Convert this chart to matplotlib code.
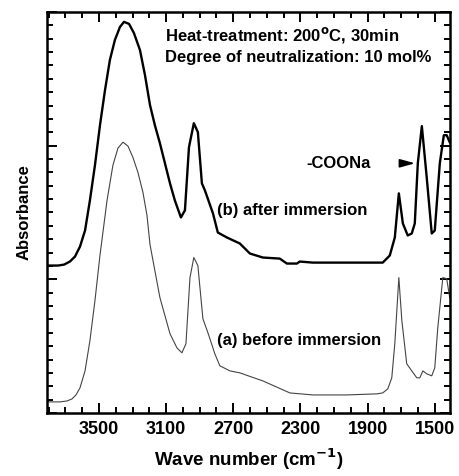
import matplotlib
matplotlib.use("Agg")
import matplotlib.pyplot as plt
from matplotlib.ticker import MultipleLocator, FixedLocator

# wave numbers (cm-1) and absorbance (arb. units)
wn_b = [3810, 3744, 3708, 3673, 3643, 3613, 3583, 3554, 3524, 3494, 3464, 3435,
        3405, 3375, 3351, 3321, 3292, 3256, 3226, 3196, 3167, 3137, 3107, 3077,
        3048, 3012, 2988, 2964, 2935, 2911, 2887, 2869, 2821, 2792, 2738, 2661,
        2601, 2524, 2423, 2381, 2321, 2304, 2226, 2024, 1887, 1810, 1768, 1738,
        1714, 1690, 1661, 1637, 1619, 1601, 1577, 1548, 1518, 1500, 1470, 1446,
        1429, 1411]
abs_b = [11.03, 11.03, 11.10, 11.33, 11.70, 12.45, 13.65, 15.90, 18.53, 21.53,
         24.16, 26.41, 27.91, 28.88, 29.26, 29.11, 28.43, 27.16, 25.28, 23.03,
         21.53, 20.18, 18.68, 17.18, 15.90, 14.63, 15.16, 19.88, 21.68, 21.01,
         17.18, 16.65, 14.93, 13.50, 13.13, 12.68, 11.93, 11.63, 11.55, 11.18,
         11.18, 11.33, 11.25, 11.25, 11.25, 11.25, 11.78, 13.13, 16.43, 14.18,
         13.28, 13.43, 14.18, 18.68, 21.46, 17.63, 13.43, 13.65, 18.68, 20.78,
         20.78, 20.26]

wn_a = [3810, 3732, 3690, 3661, 3637, 3613, 3583, 3554, 3524, 3494, 3452, 3417,
        3387, 3357, 3327, 3298, 3268, 3238, 3214, 3196, 3137, 3077, 3036, 3006,
        2982, 2958, 2935, 2911, 2881, 2851, 2810, 2780, 2720, 2661, 2524, 2363,
        2226, 2024, 1845, 1810, 1780, 1756, 1738, 1714, 1696, 1667, 1637, 1607,
        1589, 1571, 1548, 1518, 1500, 1482, 1452, 1429, 1411]
abs_a = [0.83, 0.83, 0.90, 1.05, 1.35, 1.88, 3.15, 5.40, 8.40, 11.80, 15.90,
         18.53, 19.81, 20.26, 19.96, 19.13, 18.00, 16.50, 14.78, 12.60, 8.63,
         5.93, 4.88, 4.50, 5.18, 10.13, 11.63, 11.03, 7.05, 6.00, 4.43, 3.53,
         3.15, 3.00, 2.40, 1.50, 1.35, 1.35, 1.43, 1.50, 1.80, 2.63, 5.18, 10.13,
         6.90, 3.68, 3.15, 2.63, 2.63, 3.15, 2.93, 2.78, 3.38, 6.38, 10.13, 10.05,
         8.63]

xticks = [3500, 3100, 2700, 2300, 1900, 1500]

plt.rcParams['font.family'] = ['Liberation Sans', 'DejaVu Sans']
plt.rcParams['font.weight'] = 'bold'

fig = plt.figure(figsize=(4.6, 4.76), dpi=100)
ax = fig.add_axes([0.102, 0.1324, 0.876, 0.8424])

ax.plot(wn_b, abs_b, color='black', lw=1.7)
ax.plot(wn_a, abs_a, color='#444444', lw=0.8)

ax.set_xlim(3810, 1410)
ax.set_ylim(0, 30)

ax.xaxis.set_major_locator(FixedLocator(xticks))
ax.xaxis.set_minor_locator(MultipleLocator(100))
ax.yaxis.set_major_locator(MultipleLocator(10))
ax.yaxis.set_minor_locator(MultipleLocator(1))
ax.set_xticklabels([str(t) for t in xticks], fontsize=13, fontweight='bold')
ax.set_yticklabels([])
ax.tick_params(which='both', direction='in', top=True, right=True, width=1.4)
ax.tick_params(which='major', length=7, pad=6)
ax.tick_params(which='minor', length=4)
for s in ax.spines.values():
    s.set_linewidth(1.8)

ax.set_xlabel('Wave number (cm$^{\\mathbf{-1}}$)', fontsize=13.5,
              fontweight='bold', labelpad=6)
ax.set_ylabel('Absorbance', fontsize=12, fontweight='bold', labelpad=5)

fs = 12
ax.text(3107, 28.28, 'Heat-treatment: 200$^{\\mathrm{o}}$C, 30min', fontsize=fs,
        fontweight='bold', va='center')
ax.text(3107, 26.63, 'Degree of neutralization: 10 mol%', fontsize=fs,
        fontweight='bold', va='center')
ax.text(2262, 18.68, '-COONa', fontsize=fs, fontweight='bold', va='center')
ax.annotate('', xy=(1601, 18.68), xytext=(1690, 18.68),
            arrowprops=dict(arrowstyle='-|>,head_length=0.9,head_width=0.25',
                            color='black', lw=1.2))
ax.text(2798, 15.15, '(b) after immersion', fontsize=fs, fontweight='bold',
        va='center')
ax.text(2798, 5.40, '(a) before immersion', fontsize=fs, fontweight='bold',
        va='center')

fig.savefig('out.png', dpi=100)
